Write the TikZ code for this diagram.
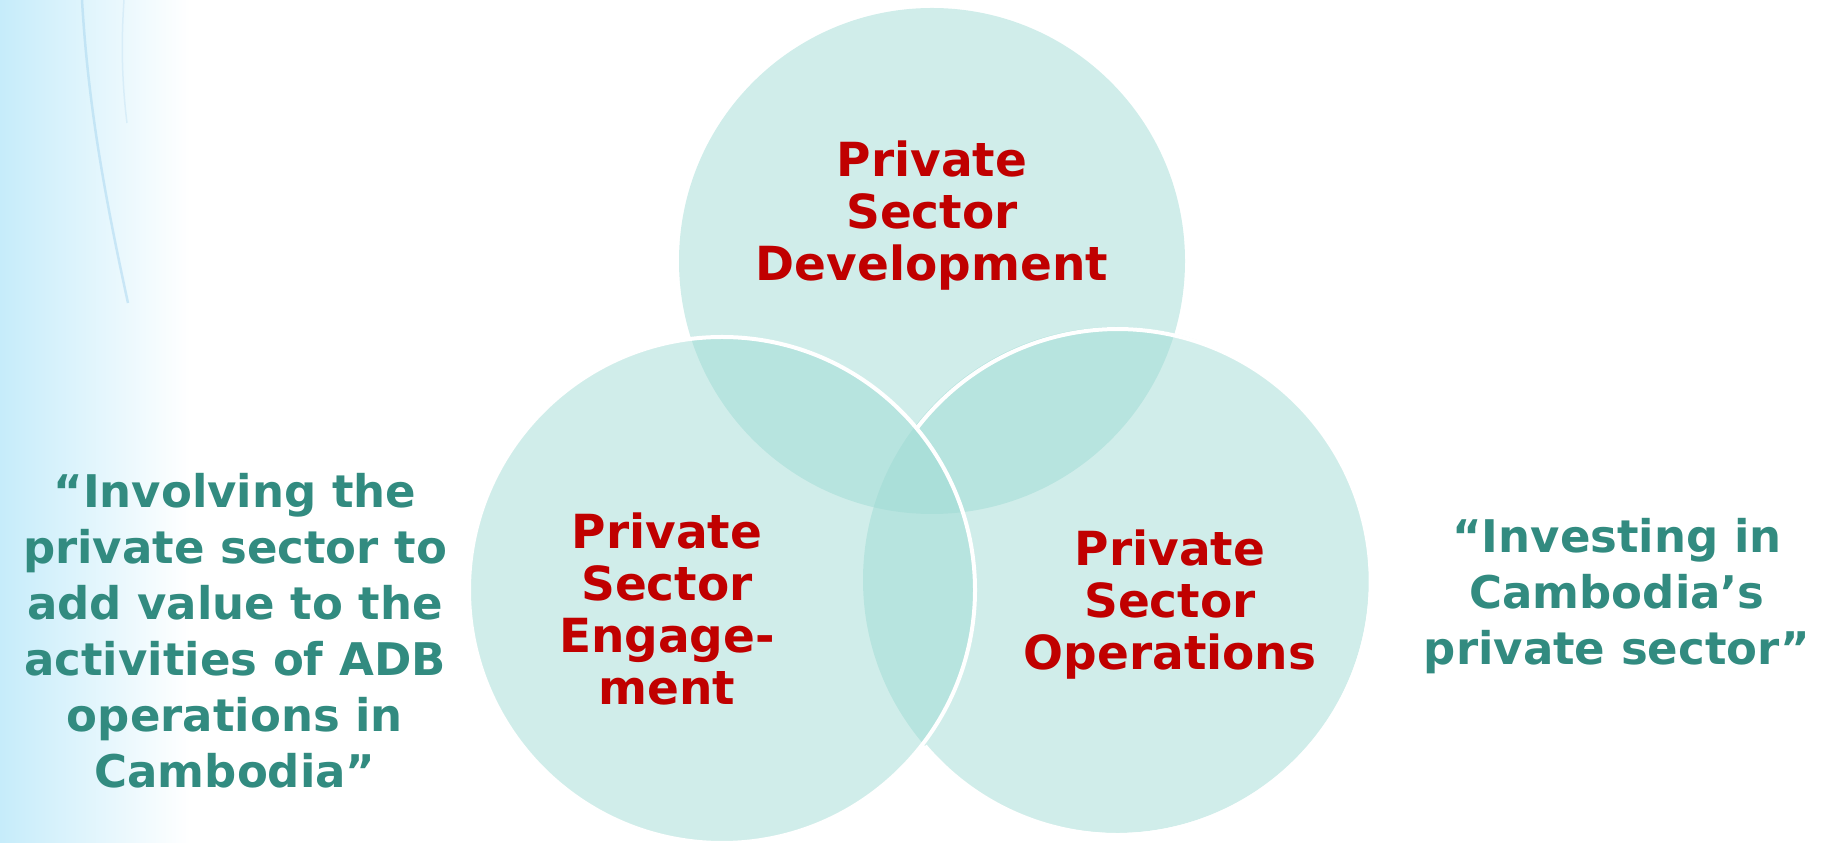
\documentclass[tikz,border=0pt]{standalone}
\usepackage{fontspec}
\setmainfont{DejaVu Sans}
\usepackage{tikz}
\usepackage{color}
\definecolor{vennfill}{RGB}{155,217,210}
\definecolor{vennred}{RGB}{192,0,0}
\definecolor{sayteal}{RGB}{50,139,128}
\definecolor{skyband}{RGB}{198,236,250}
\definecolor{swoosh}{RGB}{160,210,238}

\begin{document}
\begin{tikzpicture}[x=1pt,y=1pt,
  venn/.style={circle,fill=vennfill,fill opacity=0.47,minimum size=506pt,inner sep=0pt,outer sep=0pt},
  rim/.style={draw=white,line width=4pt},
  sectorlbl/.style={text=vennred,font=\fontsize{47}{52}\selectfont\bfseries,align=center},
  saylbl/.style={text=sayteal,font=\fontsize{45}{56}\selectfont\bfseries,align=center}]
  \useasboundingbox (0,0) rectangle (1834,843);
  \shade [left color=skyband,right color=white] (0,0) rectangle (190,843);
  \draw [swoosh,line width=2.5pt,opacity=0.45] (82,843) .. controls (88,740) and (104,650) .. (128,540);
  \draw [swoosh!60!white,line width=1.5pt,opacity=0.5] (124,843) .. controls (121,800) and (122,760) .. (127,720);
  \node [venn] (dev) at (932,582) {};
  \node [venn] (ops) at (1116,263) {};
  \node [venn,rim] (eng) at (722,253) {};
  \draw [rim] (ops.-139.6) arc[start angle=-139.6,end angle=142.5,radius=253];
  \node [sectorlbl] (devtxt) at (932,627) {Private\\Sector\\Development};
  \node [sectorlbl] (engtxt) at (667,234) {Private\\Sector\\Engage-\\ment};
  \node [sectorlbl] (opstxt) at (1170,238) {Private\\Sector\\Operations};
  \node [saylbl] (engsay) at (235,212) {“Involving the\\private sector to\\add value to the\\activities of ADB\\operations in\\Cambodia”};
  \node [saylbl] (opssay) at (1617,247) {“Investing in\\Cambodia’s\\private sector”};
\end{tikzpicture}
\end{document}
